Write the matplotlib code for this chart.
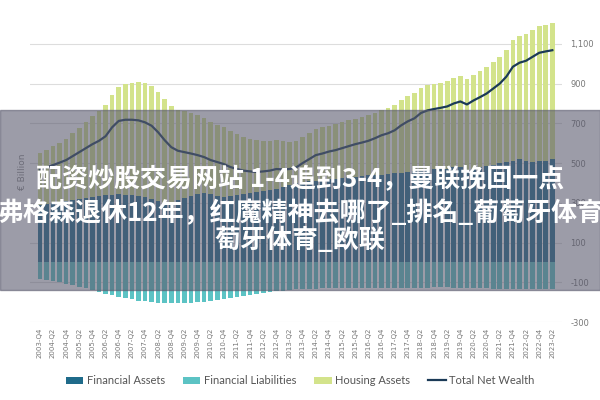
import numpy as np
import matplotlib
matplotlib.use("Agg")
import matplotlib.pyplot as plt
from matplotlib.patches import Rectangle

# quarterly, 2003-Q4 .. 2023-Q2 (EUR billion)
quarters = [f"{y}-Q{q}" for y in range(2003, 2024) for q in (1, 2, 3, 4)][3:-2]

fin_assets = [290, 295, 300, 305, 310, 315, 320, 325, 330, 335, 338,
              340, 342, 340, 338, 335, 328, 320, 310, 300, 305,
              315, 325, 335, 345, 350, 345, 335, 330, 335, 340,
              345, 350, 355, 360, 365, 370, 380, 390, 400,
              405, 410, 412, 415, 418, 420, 425, 430, 432, 435,
              438, 440, 442, 445, 448, 452, 455, 458, 462, 465,
              468, 470, 472, 478, 482, 462, 470, 478, 485, 492,
              498, 505, 512, 518, 510, 505, 508, 512, 518]
fin_liabs = [-85, -90, -95, -100, -108, -115, -122, -130, -140, -150, -158,
             -165, -172, -180, -186, -192, -196, -200, -203, -205, -206,
             -206, -205, -203, -200, -197, -193, -189, -185, -180, -175,
             -170, -165, -160, -155, -150, -146, -142, -138, -135,
             -133, -132, -132, -131, -131, -130, -130, -130, -129, -129,
             -129, -128, -128, -128, -128, -127, -127, -127, -127, -127,
             -126, -126, -126, -127, -128, -128, -129, -130, -131, -132,
             -133, -134, -135, -136, -136, -136, -135, -135, -135]
housing = [263, 273, 285, 297, 313, 335, 357, 380, 405, 427, 455,
           505, 542, 558, 566, 572, 573, 568, 548, 520, 481,
           453, 435, 416, 395, 377, 363, 359, 350, 325, 305,
           287, 273, 260, 253, 247, 246, 230, 218, 213,
           228, 242, 260, 264, 271, 275, 280, 285, 292, 297,
           303, 313, 326, 333, 345, 365, 382, 394, 417, 427,
           430, 434, 439, 449, 456, 461, 474, 484, 496, 515,
           535, 564, 608, 623, 641, 666, 682, 685, 685]

fa = np.array(fin_assets); fl = np.array(fin_liabs); ha = np.array(housing)
net = fa + ha + fl
x = np.arange(len(quarters))

c_fa, c_fl, c_ha, c_net = "#1f6b8a", "#5cc3c4", "#d3e38b", "#1b3a57"

fig = plt.figure(figsize=(6, 4), dpi=100)
ax = fig.add_axes([0.05, 0.195, 0.887, 0.75])
b1 = ax.bar(x, fa, width=0.7, color=c_fa, zorder=2)
b2 = ax.bar(x, fl, width=0.7, color=c_fl, zorder=2)
b3 = ax.bar(x, ha, width=0.7, bottom=fa, color=c_ha, zorder=2)
ln, = ax.plot(x, net, color=c_net, lw=1.6, zorder=3)

ax.set_xlim(-1.5, len(x) + 0.5)
ax.set_ylim(-300, 1210)
ax.set_yticks([-300, -100, 100, 300, 500, 700, 900, 1100])
ax.set_yticklabels(["-300", "-100", "100", "300", "500", "700", "900", "1,100"])
ax.yaxis.tick_right()
ax.tick_params(axis="y", length=0, labelsize=6, colors="#777777", pad=6)
ax.set_xticks(x[::2])
ax.set_xticklabels(quarters[::2], rotation=90, fontsize=5, color="#777777")
ax.tick_params(axis="x", length=0, pad=4)
ax.grid(axis="y", color="#dddddd", lw=0.8, zorder=0)
for s in ax.spines.values():
    s.set_visible(False)
ax.set_ylabel("€ Billion", fontsize=6.5, color="#888888", labelpad=2)

fig.legend([b1, b2, b3, ln],
           ["Financial Assets", "Financial Liabilities", "Housing Assets", "Total Net Wealth"],
           loc="lower center", bbox_to_anchor=(0.5, 0.01), ncol=4, frameon=False,
           prop={"family": "Lato", "size": 8}, handlelength=1.6, handleheight=0.6,
           handletextpad=0.3, columnspacing=1.6, labelcolor="#555555")

# overlay banner
fig.patches.append(Rectangle((0, 0.275), 1, 0.45, transform=fig.transFigure,
                             color="#5a5a6e", alpha=0.6, zorder=10))
cjk = ["Noto Sans CJK JP", "Noto Sans CJK SC", "DejaVu Sans"]
for yy, txt in [(0.55, "配资炒股交易网站 1-4追到3-4，曼联挽回一点"),
                (0.467, "弗格森退休12年，红魔精神去哪了_排名_葡萄牙体育"),
                (0.398, "萄牙体育_欧联")]:
    fig.text(0.5, yy, txt, ha="center", va="center", fontsize=18.7, color="white",
             fontweight="bold", family=cjk, zorder=11)

fig.savefig("out.png", dpi=100)
